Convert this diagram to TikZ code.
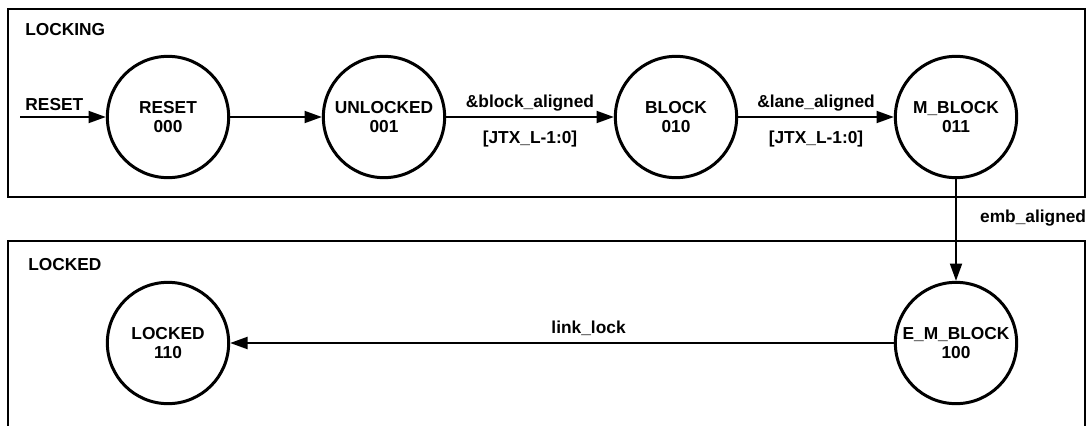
\documentclass[tikz,border=0pt]{standalone}
\usepackage{fontspec}
\setmainfont{Liberation Sans}
\usetikzlibrary{arrows.meta, positioning}
\tikzset{
  % state bubbles
  statenode/.style={
    circle, draw=black, line width=2.25pt,
    minimum size=91pt, inner sep=0pt,
    align=center, font=\fontsize{13}{14.5}\selectfont\bfseries
  },
  % group frames
  groupbox/.style={
    rectangle, draw=black, line width=1.5pt,
    inner sep=0pt
  },
  grouplabel/.style={
    anchor=west, inner sep=0pt,
    font=\fontsize{13}{15}\selectfont\bfseries
  },
  transarrow/.style={
    -{Triangle[length=13pt, width=9pt]}, line width=1.5pt
  },
  translabel/.style={
    font=\fontsize{13}{15}\selectfont\bfseries
  }
}

\begin{document}
\begin{tikzpicture}[x=0.75pt, y=-0.75pt]
  \useasboundingbox (0,0) rectangle (1091,425);

  % --- Locking group ---
  \node[groupbox, minimum width=807.75pt, minimum height=141pt]
    (locking_box) at (546.5,103) {};
  \node[grouplabel] (locking_lbl) at (25,30) {LOCKING};

  \node[statenode] (reset) at (168,117) {RESET\\000};
  \node[statenode] (unlocked) at (384,117) {UNLOCKED\\001};
  \node[statenode] (block) at (676,117) {BLOCK\\010};
  \node[statenode] (mblock) at (956,117) {M\_BLOCK\\011};
  \coordinate (rst_in) at (20,117);

  \draw[transarrow] (rst_in) -- (reset)
    node[translabel, pos=0.4, above=1pt] (rst_lbl) {RESET};
  \draw[transarrow] (reset) -- (unlocked);
  \draw[transarrow] (unlocked) -- (block)
    node[translabel, midway, above=0pt] (blk_lbl) {\&block\_aligned}
    node[translabel, midway, below=6pt] (blk_cnt) {[JTX\_L-1:0]};
  \draw[transarrow] (block) -- (mblock)
    node[translabel, midway, above=0pt] (lane_lbl) {\&lane\_aligned}
    node[translabel, midway, below=6pt] (lane_cnt) {[JTX\_L-1:0]};

  % --- Locked group ---
  \node[groupbox, minimum width=807.75pt, minimum height=141.75pt]
    (locked_box) at (546.5,335.5) {};
  \node[grouplabel] (locked_lbl) at (28,265) {LOCKED};

  \node[statenode] (locked) at (168,343) {LOCKED\\110};
  \node[statenode] (emblock) at (956,343) {E\_M\_BLOCK\\100};

  \draw[transarrow] (mblock) -- (emblock)
    node[translabel, pos=0.38, right=14pt] (emb_lbl) {emb\_aligned};
  \draw[transarrow] (emblock) -- (locked)
    node[translabel, pos=0.46, above=1.5pt] (link_lbl) {link\_lock};

\end{tikzpicture}
\end{document}
